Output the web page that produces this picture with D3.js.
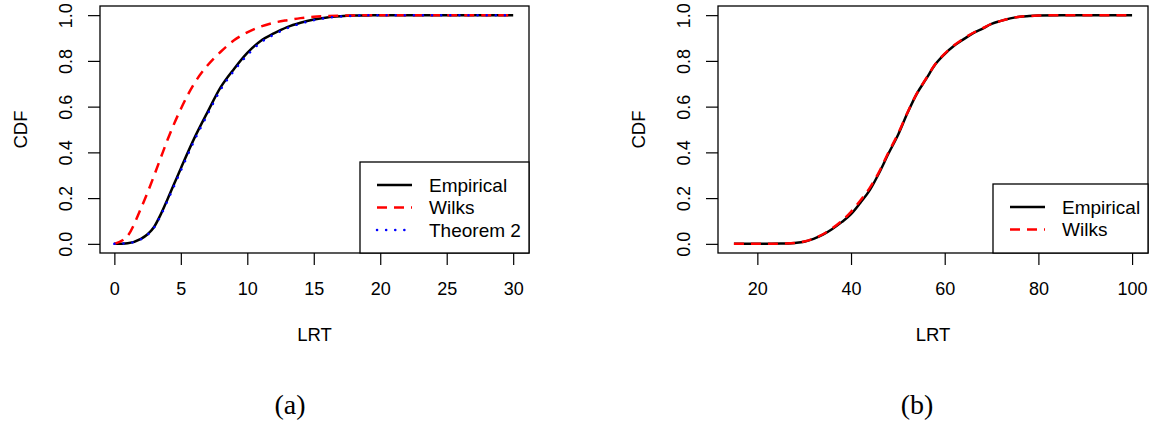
<!DOCTYPE html>
<html><head><meta charset="utf-8">
<script src="https://cdn.jsdelivr.net/npm/d3@7"></script>
<style>body{margin:0;background:#fff}svg{display:block}</style>
</head><body>
<svg id="chart" width="1152" height="425"></svg>
<script>
// Panel (a)
const xA = [0,1,2,2.5,3,3.5,4,5,6,7,8,9,10,11,12,13,14,15,16,17,18,19,20,25,30];
const empiricalA = [0,0.003,0.022,0.042,0.075,0.13,0.195,0.33,0.46,0.575,0.685,0.765,0.835,0.887,0.92,0.948,0.967,0.981,0.99,0.995,0.998,0.999,1,1,1];
const wilksA = [0,0.035,0.155,0.225,0.30,0.378,0.455,0.59,0.70,0.78,0.84,0.89,0.925,0.95,0.967,0.978,0.987,0.993,0.996,0.998,0.999,1,1,1,1];
const theorem2A = [0,0.003,0.02,0.04,0.072,0.125,0.188,0.32,0.45,0.565,0.675,0.757,0.825,0.88,0.915,0.943,0.963,0.978,0.988,0.994,0.997,0.999,1,1,1];
const xTicksA = [0,5,10,15,20,25,30];
// Panel (b)
const xB = [15,20,25,28,30,32,34,36,38,40,42,44,46,48,50,52,54,56,58,60,62,64,66,68,70,72,74,76,78,80,85,90,95,100];
const empiricalB = [0,0,0.001,0.004,0.009,0.022,0.04,0.065,0.095,0.13,0.18,0.235,0.31,0.395,0.475,0.57,0.655,0.72,0.785,0.83,0.866,0.894,0.92,0.94,0.962,0.975,0.986,0.993,0.996,0.998,1,1,1,1];
const wilksB = [0,0,0.001,0.004,0.01,0.023,0.042,0.068,0.1,0.14,0.19,0.245,0.315,0.4,0.48,0.572,0.656,0.722,0.786,0.832,0.868,0.897,0.922,0.942,0.962,0.975,0.986,0.993,0.996,0.998,1,1,1,1];
const xTicksB = [20,40,60,80,100];
const yTicks = [0,0.2,0.4,0.6,0.8,1.0];

const svg = d3.select("#chart");
const FONT = "'Liberation Sans', Arial, Helvetica, sans-serif";

function panel(cfg){
  const g = svg.append("g");
  const x = d3.scaleLinear().domain(cfg.xDomain).range([cfg.left, cfg.right]);
  const y = d3.scaleLinear().domain([-0.04, 1.04]).range([253, 6]);
  const line = d3.line().x(d => x(d[0])).y(d => y(d[1])).curve(d3.curveMonotoneX);
  cfg.series.forEach(s => {
    g.append("path").datum(cfg.xs.map((v,i) => [v, s.values[i]]))
      .attr("d", line).attr("fill","none").attr("stroke", s.color)
      .attr("stroke-width", s.width).attr("stroke-dasharray", s.dash || null)
      .attr("stroke-linecap", s.cap || "butt");
  });
  const ax = g.append("g").attr("transform", "translate(0,253)")
    .call(d3.axisBottom(x).tickValues(cfg.xTicks).tickSize(12).tickPadding(17).tickFormat(d3.format("d")));
  ax.select(".domain").remove();
  ax.selectAll("line").attr("stroke","#000").attr("stroke-width",1.2);
  ax.selectAll("text").attr("font-family",FONT).attr("font-size",18).attr("fill","#000");
  const ay = g.append("g").attr("transform", `translate(${cfg.left},0)`)
    .call(d3.axisLeft(y).tickValues(yTicks).tickSize(12).tickFormat(d3.format(".1f")));
  ay.select(".domain").remove();
  ay.selectAll("line").attr("stroke","#000").attr("stroke-width",1.2);
  ay.selectAll("text").attr("font-family",FONT).attr("font-size",18).attr("fill","#000")
    .attr("x",0).attr("y",0).attr("dy",0).attr("text-anchor","middle")
    .attr("transform","translate(-28,0) rotate(-90)");
  g.append("rect").attr("x",cfg.left).attr("y",6).attr("width",cfg.right-cfg.left).attr("height",247)
    .attr("fill","none").attr("stroke","#000").attr("stroke-width",1.3);
  g.append("text").attr("x",(cfg.left+cfg.right)/2).attr("y",341).attr("text-anchor","middle")
    .attr("font-family",FONT).attr("font-size",18.5).text("LRT");
  g.append("text").attr("transform",`translate(${cfg.left-73},129.5) rotate(-90)`).attr("text-anchor","middle")
    .attr("font-family",FONT).attr("font-size",18.5).text("CDF");
  g.append("text").attr("x",cfg.capX).attr("y",414).attr("text-anchor","middle")
    .attr("font-family","'Liberation Serif','DejaVu Serif',serif").attr("font-size",28).text(cfg.caption);
  const lg = cfg.legend;
  g.append("rect").attr("x",lg.x).attr("y",lg.y).attr("width",cfg.right-lg.x).attr("height",253-lg.y)
    .attr("fill","#fff").attr("stroke","#000").attr("stroke-width",1.3);
  cfg.series.forEach((s,i) => {
    const yy = lg.y + 23 + i*22.5;
    g.append("line").attr("x1",lg.x+17).attr("x2",lg.x+52).attr("y1",yy).attr("y2",yy)
      .attr("stroke",s.color).attr("stroke-width",s.width).attr("stroke-dasharray",s.dash||null)
      .attr("stroke-linecap", s.cap || "butt");
    g.append("text").attr("x",lg.x+69).attr("y",yy).attr("dy","0.35em")
      .attr("font-family",FONT).attr("font-size",19).text(s.name);
  });
}

panel({
  left:100, right:529, xDomain:[-1.08, 31.19], xs:xA, xTicks:xTicksA, capX:290, caption:"(a)",
  legend:{x:360, y:162},
  series:[
    {name:"Empirical", values:empiricalA, color:"#000", width:2.5},
    {name:"Wilks", values:wilksA, color:"#ff0000", width:2.5, dash:"10,7"},
    {name:"Theorem 2", values:theorem2A, color:"#0000ff", width:2.5, dash:"0.1,9", cap:"round"}
  ]
});
panel({
  left:718, right:1148, xDomain:[11.6, 103.4], xs:xB, xTicks:xTicksB, capX:917, caption:"(b)",
  legend:{x:993, y:184},
  series:[
    {name:"Empirical", values:empiricalB, color:"#000", width:2.5},
    {name:"Wilks", values:wilksB, color:"#ff0000", width:2.5, dash:"10,7"}
  ]
});
</script>
</body></html>
